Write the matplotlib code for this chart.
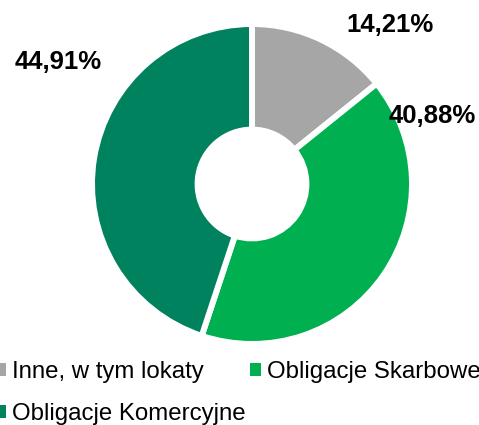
import matplotlib
matplotlib.use("Agg")
import matplotlib.pyplot as plt
from matplotlib.patches import Patch

plt.rcParams['font.family'] = ['Liberation Sans', 'DejaVu Sans']

# data
categories = ['Inne, w tym lokaty', 'Obligacje Skarbowe', 'Obligacje Komercyjne']
shares = [14.21, 40.88, 44.91]
colors = ['#A6A6A6', '#00B050', '#00825F']

fig = plt.figure(figsize=(4.79, 4.25), dpi=100)
ax = fig.add_axes([92 / 479, 81 / 425, 320 / 479, 320 / 425])

ax.pie(shares, colors=colors, startangle=90, counterclock=False,
       radius=1.0,
       wedgeprops=dict(width=0.66, edgecolor='white', linewidth=4.3))
ax.set_xlim(-1, 1)
ax.set_ylim(-1, 1)
ax.set_aspect('equal')
ax.axis('off')

# data labels (pixel positions from the original layout)
label_pos = [(390, 25), (432, 116), (58, 62)]
for v, (px, py) in zip(shares, label_pos):
    txt = f"{v:.2f}".replace('.', ',') + '%'
    fig.text(px / 479, 1 - py / 425, txt, ha='center', va='center',
             fontsize=18.5, fontweight='bold', color='black')

# legend, row-wise order: Inne, Skarbowe / Komercyjne
order = [0, 2, 1]
handles = [Patch(facecolor=colors[i], edgecolor='none') for i in order]
labels = [categories[i] for i in order]
fig.legend(handles, labels, ncol=2, loc='upper left',
           bbox_to_anchor=(-5 / 479, 1 - 361 / 425),
           frameon=False, fontsize=17.3, borderpad=0, borderaxespad=0,
           handlelength=0.47, handleheight=0.47, handletextpad=0.25,
           columnspacing=0.15, labelspacing=0.85)

fig.savefig('out.png', dpi=100)
